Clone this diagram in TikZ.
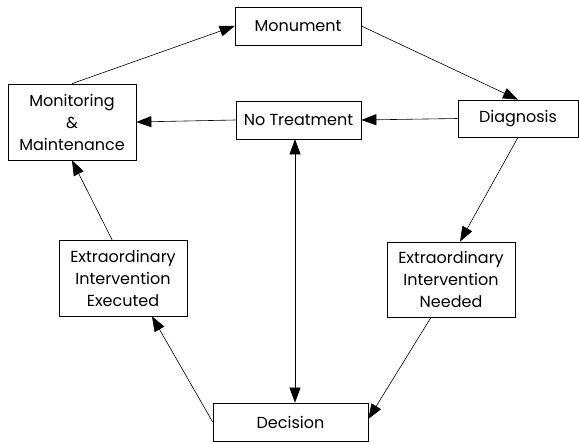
\documentclass[tikz,border=0pt]{standalone}
\usepackage{fontspec}
\setmainfont{Poppins}
\usetikzlibrary{arrows.meta}
\begin{document}
\begin{tikzpicture}[x=1pt,y=1pt,
        tip/.tip={Triangle[length=15pt,width=11pt]},
        box/.style={draw,line width=0.7pt,align=center,inner sep=0pt,
            font=\fontsize{16}{22}\selectfont},
        flow/.style={line width=0.6pt,-tip}]
    \useasboundingbox (0,0) rectangle (579,-444);
    % boxes
    \node[box,minimum width=126pt,minimum height=38pt] (mon) at (298,-26) {Monument};
    \node[box,minimum width=120pt,minimum height=37pt] (dia) at (518,-118.5) {Diagnosis};
    \node[box,minimum width=125pt,minimum height=38pt] (nt) at (298.5,-120) {No Treatment};
    \node[box,minimum width=128pt,minimum height=76pt] (mm) at (72,-122) {Monitoring\\\&\\Maintenance};
    \node[box,minimum width=128pt,minimum height=76pt] (exe) at (123,-278) {Extraordinary\\Intervention\\Executed};
    \node[box,minimum width=128pt,minimum height=75pt] (need) at (451,-279.5) {Extraordinary\\Intervention\\Needed};
    \node[box,minimum width=155pt,minimum height=38pt] (dec) at (290.5,-422) {Decision};
    % connectors
    \draw[flow] (mm.north) -- (mon.west);
    \draw[flow] (mon.east) -- (dia.north);
    \draw[flow] (dia.west) -- (nt.east);
    \draw[flow] (nt.west) -- (mm.east);
    \draw[flow] (dia.south) -- ([xshift=9pt]need.north);
    \draw[flow] ([xshift=-20pt]need.south) -- ([yshift=3pt]dec.east);
    \draw[flow,tip-tip] ([xshift=-3.5pt]nt.south) -- ([xshift=4.5pt]dec.north);
    \draw[flow] (dec.west) -- ([xshift=29pt]exe.south);
    \draw[flow] ([xshift=-11pt]exe.north) -- (mm.south);
\end{tikzpicture}
\end{document}
